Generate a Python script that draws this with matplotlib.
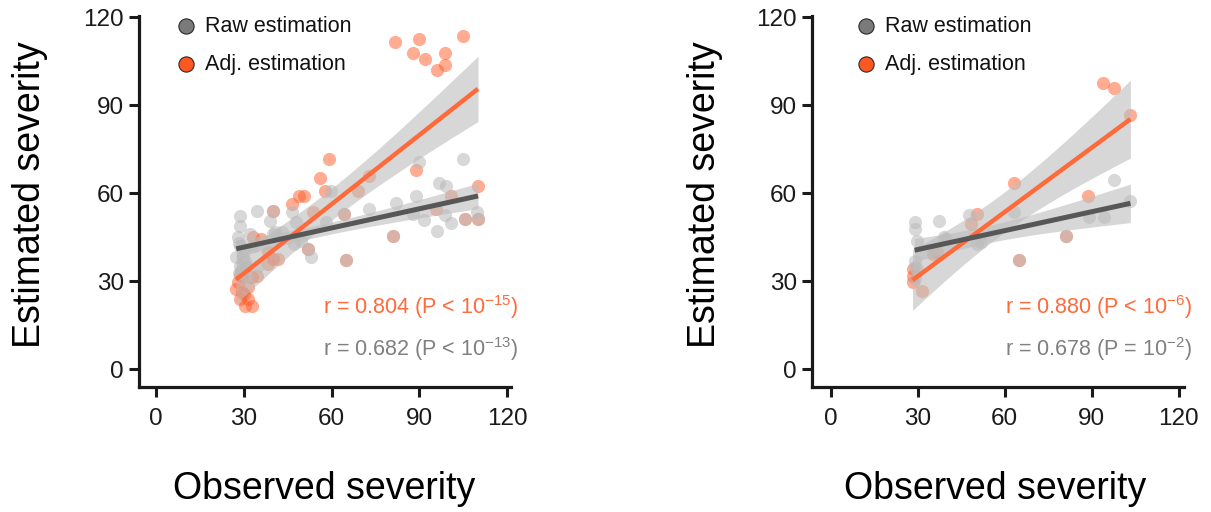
import numpy as np
import matplotlib
matplotlib.use("Agg")
import matplotlib.pyplot as plt

plt.rcParams['font.family'] = ['Liberation Sans', 'DejaVu Sans']
plt.rcParams['mathtext.fontset'] = 'custom'
plt.rcParams['mathtext.rm'] = 'Liberation Sans'
plt.rcParams['mathtext.default'] = 'regular'

# ---------------- data ----------------
ticks = [0, 30, 60, 90, 120]
xlabel = "Observed severity"
ylabel = "Estimated severity"
legend_labels = ["Raw estimation", "Adj. estimation"]

# Left panel
left_raw_x = [89.8, 104.9, 96.7, 99.1, 88.8, 81.9, 72.7, 109.7, 87.8, 91.5, 98.7, 100.8, 96.0,
              105.6, 110.0, 80.9, 64.8, 64.1, 39.8, 59.7, 57.9, 47.0, 52.8, 34.6, 39.1, 40.1,
              28.8, 28.8, 28.1, 28.8, 29.8, 28.8, 31.2, 35.0, 43.2, 47.7, 49.4, 33.3, 46.6,
              51.8, 32.2, 27.4, 40.8, 28.5, 29.6, 30.2, 28.2, 31.0, 29.0, 30.5]
left_raw_y = [70.8, 71.9, 63.7, 62.4, 59.3, 56.6, 54.6, 53.6, 52.9, 50.8, 52.5, 49.8, 47.1,
              51.2, 51.2, 45.4, 37.3, 52.9, 53.9, 60.7, 50.2, 42.7, 38.3, 53.9, 50.5, 46.1,
              52.2, 48.8, 45.1, 42.0, 38.3, 35.3, 34.9, 35.3, 46.8, 50.2, 43.7, 42.0, 53.6,
              41.0, 46.1, 38.3, 46.8, 33.0, 36.5, 40.5, 43.0, 31.5, 33.5, 37.0]
left_adj_x = [81.6, 89.8, 104.9, 87.8, 91.9, 98.7, 98.7, 96.0, 96.7,
              88.8, 59.0, 55.9, 57.6, 72.7, 68.9, 48.7, 50.7, 46.6, 110.0, 100.8, 105.6, 110.0,
              95.6, 80.9, 64.8, 64.1, 39.8, 53.5, 51.8, 41.8, 39.8, 35.7, 33.3, 38.4, 38.1,
              29.5, 28.1, 32.9, 34.6, 31.5, 29.5, 28.8, 31.5, 30.5, 32.9, 27.4, 30.9, 30.2, 28.8]
left_adj_y = [111.5, 112.5, 113.6, 107.8, 105.8, 107.8, 103.7, 102.0, 123.0,
              68.1, 71.9, 65.4, 61.0, 65.8, 61.0, 59.0, 59.0, 56.3, 62.4, 59.3, 51.2, 51.2,
              54.6, 45.4, 37.3, 52.9, 53.9, 53.6, 41.0, 37.6, 37.6, 44.4, 45.1, 35.9, 40.0,
              31.5, 29.8, 31.5, 31.9, 28.1, 26.4, 24.1, 24.1, 21.7, 21.7, 27.5, 34.9, 25.8, 32.2]

# Right panel
right_raw_x = [97.6, 103.4, 89.0, 94.2, 63.2, 47.8, 37.5, 28.9, 28.9, 29.6, 39.9, 50.5, 28.9,
               28.9, 35.1, 64.9, 81.1, 28.9, 39.2, 51.9, 29.6]
right_raw_y = [64.7, 57.3, 51.9, 51.9, 53.6, 52.5, 50.5, 50.2, 47.8, 43.7, 44.4, 42.7, 36.9,
               34.9, 40.0, 37.3, 45.4, 30.8, 45.1, 43.4, 34.2]
right_adj_x = [93.8, 97.6, 103.4, 63.2, 88.7, 50.5, 48.5, 81.1, 64.9, 28.2, 28.2, 31.3, 36.8,
               35.1, 28.2]
right_adj_y = [97.6, 95.9, 86.8, 63.4, 59.3, 52.9, 49.5, 45.4, 37.3, 34.2, 29.8, 26.8, 40.0,
               39.3, 32.0]

left_stats = ["r = 0.804 (P < 10$^{-15}$)", "r = 0.682 (P < 10$^{-13}$)"]
right_stats = ["r = 0.880 (P < 10$^{-6}$)", "r = 0.678 (P = 10$^{-2}$)"]

# ---------------- style ----------------
ORANGE_PT = '#ff5a28'
GRAY_PT = '#b8b8b8'
ORANGE_LN = '#ff6a3a'
GRAY_LN = '#575757'
BAND = '#bdbdbd'
TXT_OR = '#ff6a3a'
TXT_GR = '#808080'
SPINE = '#1a1a1a'


def t_crit(df, z=1.959964):
    return z + (z**3 + z) / (4 * df) + (5 * z**5 + 16 * z**3 + 3 * z) / (96 * df**2)


def fit_band(x, y):
    x = np.asarray(x, float)
    y = np.asarray(y, float)
    n = len(x)
    b, a = np.polyfit(x, y, 1)
    grid = np.linspace(x.min(), x.max(), 100)
    pred = a + b * grid
    resid = y - (a + b * x)
    s = np.sqrt(np.sum(resid**2) / (n - 2))
    sxx = np.sum((x - x.mean())**2)
    se = s * np.sqrt(1.0 / n + (grid - x.mean())**2 / sxx)
    t = t_crit(n - 2)
    return grid, pred, pred - t * se, pred + t * se


fig = plt.figure(figsize=(12.11, 5.12), dpi=100)

panels = [
    (0.1148, left_raw_x, left_raw_y, left_adj_x, left_adj_y, left_stats, (-5.8, 121.4), 0.127, 0.178, 30 / 1211, 0.268),
    (0.6705, right_raw_x, right_raw_y, right_adj_x, right_adj_y, right_stats, (-6.5, 122.0), 0.144, 0.195, 705 / 1211, 0.822),
]

for (left, rx, ry, ax_, ay_, stats, xl, mx, tx, ylx, xlx) in panels:
    ax = fig.add_axes([left, 0.2441, 0.3075, 0.7246])
    ax.scatter(ax_, ay_, s=90, color=ORANGE_PT, alpha=0.5, linewidths=0, zorder=2)
    ax.scatter(rx, ry, s=90, color=GRAY_PT, alpha=0.55, linewidths=0, zorder=3)

    g1, p1, lo1, hi1 = fit_band(rx, ry)
    g2, p2, lo2, hi2 = fit_band(ax_, ay_)
    ax.fill_between(g2, lo2, hi2, color=BAND, alpha=0.6, linewidth=0, zorder=4)
    ax.fill_between(g1, lo1, hi1, color=BAND, alpha=0.6, linewidth=0, zorder=4)
    ax.plot(g2, p2, color=ORANGE_LN, lw=3.2, zorder=5, solid_capstyle='butt')
    ax.plot(g1, p1, color=GRAY_LN, lw=3.6, zorder=6, solid_capstyle='butt')

    ax.set_xlim(*xl)
    ax.set_ylim(-6, 120.5)
    ax.set_xticks(ticks)
    ax.set_yticks(ticks)
    for sp in ['top', 'right']:
        ax.spines[sp].set_visible(False)
    for sp in ['left', 'bottom']:
        ax.spines[sp].set_linewidth(2.3)
        ax.spines[sp].set_color(SPINE)
    ax.tick_params(axis='both', direction='out', length=7, width=2.2, color=SPINE,
                   labelsize=17.5, labelcolor='#1a1a1a')
    ax.tick_params(axis='y', pad=4)
    ax.tick_params(axis='x', pad=8)

    # legend
    ax.scatter([mx], [0.972], s=120, color='#7a7a7a', edgecolors='#2a2a2a', linewidths=0.8,
               transform=ax.transAxes, clip_on=False, zorder=10)
    ax.scatter([mx], [0.870], s=120, color='#ff5722', edgecolors='#2a2a2a', linewidths=0.8,
               transform=ax.transAxes, clip_on=False, zorder=10)
    ax.text(tx, 0.972, legend_labels[0], transform=ax.transAxes, fontsize=15.5,
            va='center', ha='left', color='#111111')
    ax.text(tx, 0.870, legend_labels[1], transform=ax.transAxes, fontsize=15.5,
            va='center', ha='left', color='#111111')

    # statistics
    ax.text(1.02, 0.215, stats[0], transform=ax.transAxes, fontsize=15.5, color=TXT_OR,
            ha='right', va='center', clip_on=False)
    ax.text(1.02, 0.103, stats[1], transform=ax.transAxes, fontsize=15.5, color=TXT_GR,
            ha='right', va='center', clip_on=False)

    fig.text(ylx, 0.619, ylabel, rotation=90, fontsize=27, ha='center', va='center')
    fig.text(xlx, 0.045, xlabel, fontsize=27, ha='center', va='center')

fig.savefig('out.png', dpi=100)
